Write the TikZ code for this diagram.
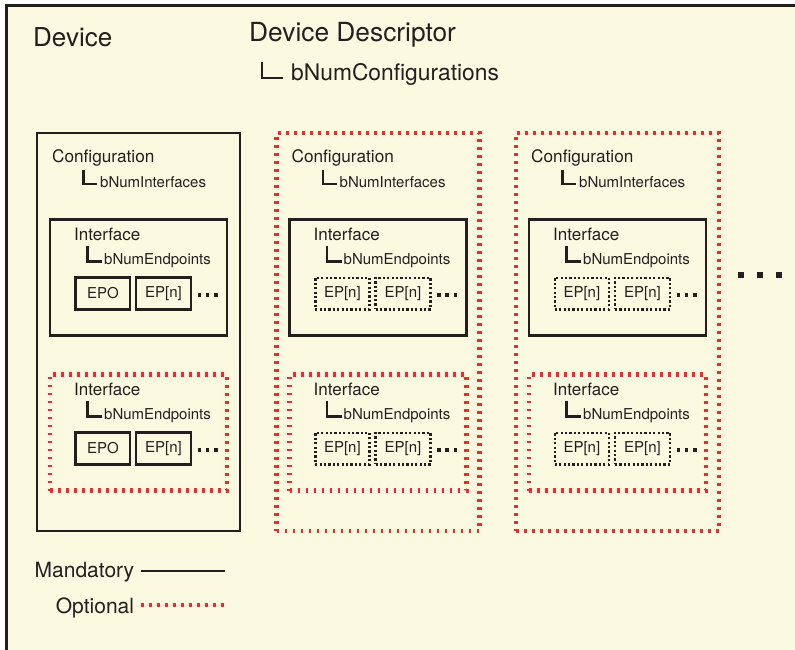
\documentclass[tikz,border=0pt]{standalone}
\usepackage{fontspec}
\setmainfont{TeX Gyre Heros}
\definecolor{PanelCream}{HTML}{FCF9E1}
\definecolor{OptRed}{HTML}{EE2A2F}
\definecolor{InkGray}{HTML}{231F20}

\begin{document}
\begin{tikzpicture}[x=1pt,y=-1pt,every node/.style={inner sep=0pt,text=InkGray},
  mandatory/.style={draw=InkGray,line width=2.8pt},
  optional/.style={draw=OptRed,line width=4.8pt,dash pattern=on 2.7pt off 5.3pt},
  epsolid/.style={draw=InkGray,line width=2.8pt,minimum height=31.5pt,font=\fontsize{15}{15}\selectfont},
  epdotted/.style={draw=InkGray,line width=2.5pt,dash pattern=on 2.2pt off 2.2pt,minimum height=31.5pt,font=\fontsize{15}{15}\selectfont},
  lbl/.style={anchor=base west},
  tick/.style={draw=InkGray,line width=2.8pt}]
  \useasboundingbox (0,0) rectangle (795,649);
  \fill[PanelCream] (6.5,5.5) rectangle (800,660);
  \draw[line width=2.8pt,InkGray] (6.5,660) -- (6.5,5.5) -- (800,5.5);
  % device header
  \node[lbl,font=\fontsize{26}{26}\selectfont] (device) at (33,46.5) {Device};
  \node[lbl,font=\fontsize{26.3}{26.3}\selectfont] (devdesc) at (249,41) {Device Descriptor};
  \draw[tick] (262,62) |- (283,78);
  \node[lbl,font=\fontsize{22.8}{22.8}\selectfont] (numcfg) at (291,80.5) {bNumConfigurations};
  % three configurations
  \foreach \i/\dx/\frm/\eps/\epa in {1/0/mandatory/epsolid/EPO,2/239.5/optional/epdotted/EP[n],3/479/optional/epdotted/EP[n]}{
    \begin{scope}[xshift=\dx pt]
      \node[\frm,minimum width=203pt,minimum height=398pt] (cfg\i) at (138.5,332) {};
      \node[lbl,font=\fontsize{17.2}{17.2}\selectfont] (cfglbl\i) at (52,162) {Configuration};
      \draw[tick] (83.5,170) |- (97,184);
      \node[lbl,font=\fontsize{15}{15}\selectfont] (numif\i) at (100,187) {bNumInterfaces};
      \foreach \j/\dy/\ibox in {a/0/mandatory,b/155/optional}{
        \begin{scope}[yshift=-\dy pt]
          \node[\ibox,minimum width=177pt,minimum height=116pt] (if\i\j) at (138.5,277.5) {};
          \node[lbl,font=\fontsize{17}{17}\selectfont] (iflbl\i\j) at (74,240) {Interface};
          \draw[tick] (87.5,246) |- (102,261.5);
          \node[lbl,font=\fontsize{15}{15}\selectfont] (numep\i\j) at (104,264) {bNumEndpoints};
          \node[\eps,minimum width=54.3pt] (epa\i\j) at (102.9,293.5) {\epa};
          \node[\eps,minimum width=55pt] (epn\i\j) at (163.5,293.5) {EP[n]};
          \foreach \px in {199.5,207.5,216}{\fill[InkGray] (\px,295) ++(-1.6,-1.6) rectangle ++(3.2,3.2);}
        \end{scope}
      }
    \end{scope}
  }
  % more configurations
  \foreach \px in {741,760,779}{\fill[InkGray] (\px,274.5) ++(-3,-3) rectangle ++(6,6);}
  % legend
  \node[lbl,font=\fontsize{21}{21}\selectfont] (mand) at (34.5,577) {Mandatory};
  \coordinate (mandA) at (141,571); \coordinate (mandB) at (224.5,571);
  \draw[mandatory,line width=2.4pt] (mandA) -- (mandB);
  \node[lbl,font=\fontsize{21}{21}\selectfont] (opt) at (55.7,613.5) {Optional};
  \coordinate (optA) at (141,605); \coordinate (optB) at (224.5,605);
  \draw[optional] (optA) -- (optB);
\end{tikzpicture}
\end{document}
